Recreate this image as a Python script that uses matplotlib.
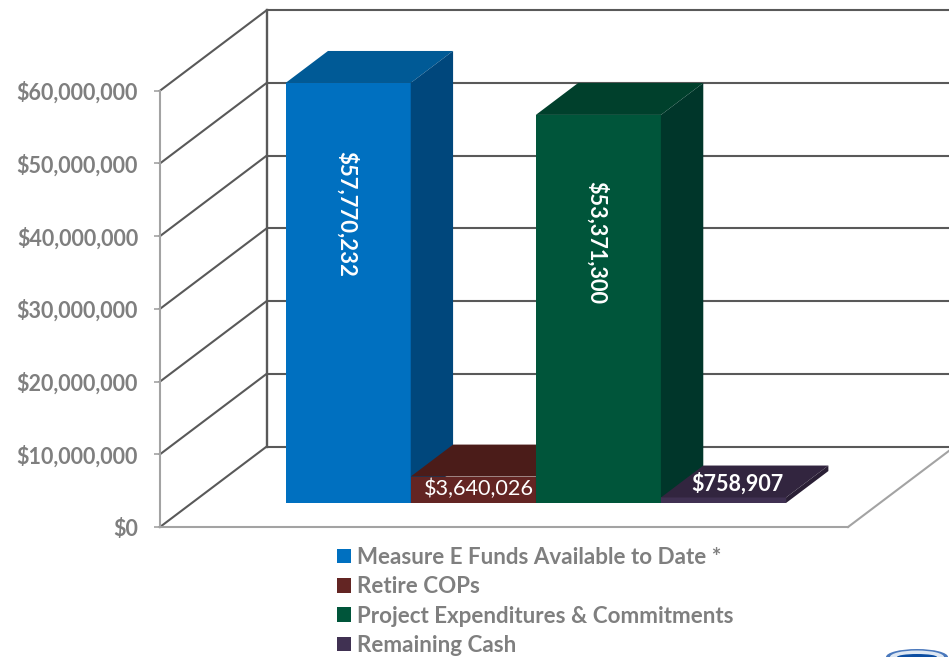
import matplotlib
matplotlib.use("Agg")
import matplotlib.pyplot as plt
from matplotlib.patches import Polygon, Patch, Ellipse
from matplotlib.ticker import FuncFormatter

plt.rcParams['font.family'] = ['Lato', 'DejaVu Sans']

categories = ["Measure E Funds Available to Date *", "Retire COPs",
              "Project Expenditures & Commitments", "Remaining Cash"]
values = [57770232, 3640026, 53371300, 758907]
value_labels = ["$57,770,232", "$3,640,026", "$53,371,300", "$758,907"]
ticks = [0, 10000000, 20000000, 30000000, 40000000, 50000000, 60000000]

front_colors = ["#0070C0", "#632523", "#00553A", "#403152"]
top_colors = ["#005A96", "#4B1C19", "#00402C", "#32253F"]
side_colors = ["#00477C", "#431916", "#00362A", "#2A1F35"]

W, H = 949, 657
PX_X = 125.1           # pixels per category unit
PX_Y = 436.3 / 60e6    # pixels per dollar
X0_PX, Y0_PX = 160, 527
DX = 106.7 / PX_X      # full depth, in category units
DY = 80.5 / PX_Y       # full depth, in dollars
GAP = 0.75
Z0, Z1 = 0.298, 0.695
TOTAL = len(values) + 2 * GAP

fig = plt.figure(figsize=(W / 100, H / 100), dpi=100)
ax = fig.add_axes([0, 0, 1, 1])
ax.set_xlim(-X0_PX / PX_X, (W - X0_PX) / PX_X)
ax.set_ylim(-(H - Y0_PX) / PX_Y, Y0_PX / PX_Y)
ax.patch.set_alpha(0)


def proj(x, y, z=0.0):
    return (x + z * DX, y + z * DY)


DARK = "#595959"
GRAY = "#A3A3A3"
LW = 1.5
# walls
for t in ticks:
    ax.plot(*zip(proj(0, t, 0), proj(0, t, 1)), color=DARK, lw=LW, zorder=2)
    ax.plot(*zip(proj(0, t, 1), proj(TOTAL + 1, t, 1)), color=DARK, lw=LW, zorder=2,
            solid_capstyle='butt')
ax.plot(*zip(proj(0, ticks[0], 1), proj(0, ticks[-1], 1)), color=DARK, lw=LW + 0.2, zorder=2)
ax.plot(*zip(proj(TOTAL, 0, 0), proj(TOTAL, 0, 1)), color=GRAY, lw=LW, zorder=2)

# bars
for i, v in enumerate(values):
    x0 = GAP + i
    x1 = x0 + 1
    ax.add_patch(Polygon([proj(x0, 0, Z0), proj(x1, 0, Z0), proj(x1, v, Z0), proj(x0, v, Z0)],
                         closed=True, fc=front_colors[i], ec='none', zorder=3 + i))
    ax.add_patch(Polygon([proj(x0, v, Z0), proj(x1, v, Z0), proj(x1, v, Z1), proj(x0, v, Z1)],
                         closed=True, fc=top_colors[i], ec='none', zorder=3 + i))
    ax.add_patch(Polygon([proj(x1, 0, Z0), proj(x1, 0, Z1), proj(x1, v, Z1), proj(x1, v, Z0)],
                         closed=True, fc=side_colors[i], ec='none', zorder=3 + i))

# value labels
lab = dict(color="white", ha='center', va='center', zorder=10)
ax.text(*proj(GAP + 0.485, values[0] * 0.687, Z0), value_labels[0], rotation=-90,
        fontsize=15.9, fontweight='bold', **lab)
ax.text(*proj(GAP + 1.545, values[1] * 0.54, Z0), value_labels[1],
        fontsize=15.6, **lab)
ax.text(*proj(GAP + 2.485, values[2] * 0.67, Z0), value_labels[2], rotation=-90,
        fontsize=15.6, fontweight='bold', **lab)
ax.text(*proj(GAP + 3.47, values[3], (Z0 + Z1) / 2 - 0.03), value_labels[3],
        fontsize=15.5, fontweight='bold', **lab)

# axes
for s in ('top', 'right'):
    ax.spines[s].set_visible(False)
ax.spines['left'].set_position(('data', 0))
ax.spines['left'].set_bounds(ticks[0], ticks[-1])
ax.spines['bottom'].set_position(('data', 0))
ax.spines['bottom'].set_bounds(0, TOTAL)
for s in ('left', 'bottom'):
    ax.spines[s].set_color(GRAY)
    ax.spines[s].set_linewidth(LW)
    ax.spines[s].set_zorder(2.5)
ax.set_xticks([])
ax.set_yticks(ticks)
ax.yaxis.set_major_formatter(FuncFormatter(lambda v, _: f"${v:,.0f}"))
ax.tick_params(axis='y', length=4.3, width=1.2, color=GRAY, pad=11.5,
               labelcolor="#7F7F7F", labelsize=15.5)
for t in ax.get_yticklabels():
    t.set_fontweight('bold')

# legend
handles = [Patch(fc=c, ec='none') for c in front_colors]
leg = ax.legend(handles, categories, loc='upper left',
                bbox_to_anchor=(337 / W, 1 - 547 / H), bbox_transform=ax.transAxes,
                frameon=False, borderpad=0, borderaxespad=0,
                handlelength=0.63, handleheight=0.63, handletextpad=0.27,
                labelspacing=0.37, prop={'size': 16.1, 'weight': 'bold'})
for t in leg.get_texts():
    t.set_color("#7F7F7F")

# logo fragment in the corner
for (w, h, c) in [(62, 16, '#4A78BC'), (54, 13, '#DDE7F3'), (40, 6, '#0B4DA2')]:
    ax.add_patch(Ellipse((917 / W, 0.0), w / W, h / H, transform=ax.transAxes, fc=c,
                         ec='none', zorder=1))

fig.savefig("out.png", dpi=100)
